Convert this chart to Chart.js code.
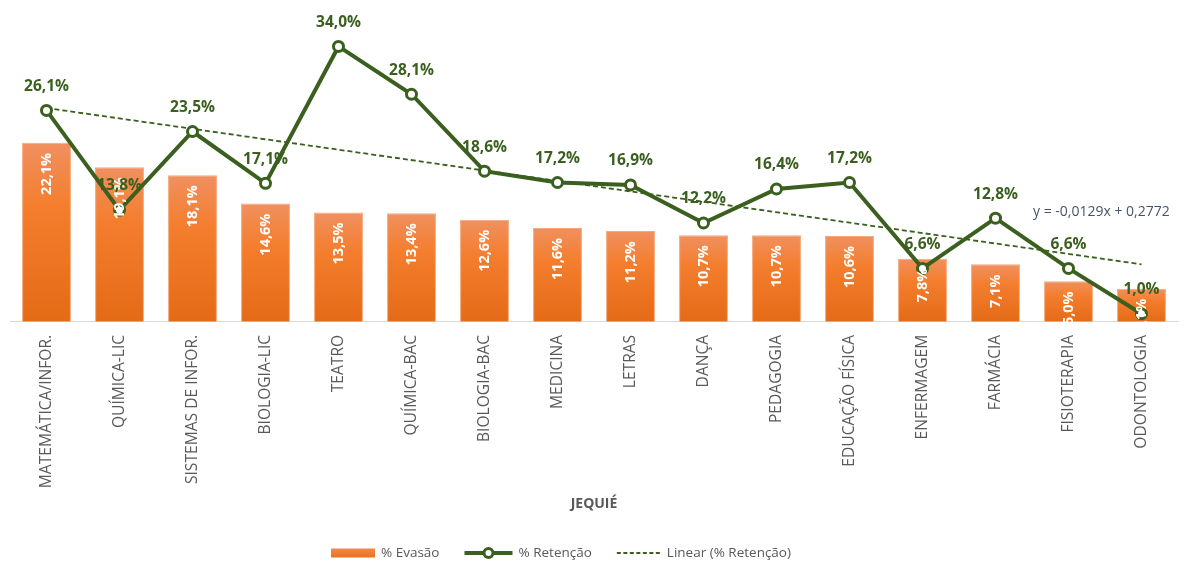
<!DOCTYPE html>
<html>
<head>
<meta charset="utf-8">
<script src="https://cdn.jsdelivr.net/npm/chart.js@4/dist/chart.umd.min.js"></script>
<style>
html,body{margin:0;padding:0;background:#fff;}
#wrap{width:1187px;height:563px;position:relative;}
</style>
</head>
<body>
<div id="wrap"><canvas id="c"></canvas></div>
<script>
const categories = ['MATEMÁTICA/INFOR.','QUÍMICA-LIC','SISTEMAS DE INFOR.','BIOLOGIA-LIC','TEATRO','QUÍMICA-BAC','BIOLOGIA-BAC','MEDICINA','LETRAS','DANÇA','PEDAGOGIA','EDUCAÇÃO FÍSICA','ENFERMAGEM','FARMÁCIA','FISIOTERAPIA','ODONTOLOGIA'];
const evasao = [22.1,19.1,18.1,14.6,13.5,13.4,12.6,11.6,11.2,10.7,10.7,10.6,7.8,7.1,5.0,4.1];
const retencao = [26.1,13.8,23.5,17.1,34.0,28.1,18.6,17.2,16.9,12.2,16.4,17.2,6.6,12.8,6.6,1.0];
// trendline endpoints (y = -0,0129x + 0,2772)
const trendline = [26.4,null,null,null,null,null,null,null,null,null,null,null,null,null,null,7.1];
const equationText = 'y = -0,0129x + 0,2772';
const legendNames = ['% Evasão','% Retenção','Linear (% Retenção)'];
const axisTitle = 'JEQUIÉ';

const GREEN = '#3A5F1E';
const FONT = "'Open Sans', 'DejaVu Sans', sans-serif";
const fmt = v => v.toFixed(1).replace('.', ',') + '%';

function barFill(ctx){
  const chart = ctx.chart;
  const area = chart.chartArea;
  if (!area || ctx.type !== 'data') return '#F07B2A';
  const y = chart.scales.y;
  const top = y.getPixelForValue(ctx.raw);
  const bottom = y.getPixelForValue(0);
  if (!isFinite(top) || bottom - top < 1) return '#F07B2A';
  const g = chart.ctx.createLinearGradient(0, top, 0, bottom);
  g.addColorStop(0, '#F09060');
  g.addColorStop(0.35, '#F47E2E');
  g.addColorStop(1, '#E46A16');
  return g;
}

const labelPlugin = {
  id: 'labels',
  afterDatasetsDraw(chart){
    const ctx = chart.ctx;
    ctx.save();
    const bars = chart.getDatasetMeta(0).data;
    ctx.fillStyle = '#FFFFFF';
    ctx.font = 'bold 14.5px ' + FONT;
    ctx.textAlign = 'right';
    ctx.textBaseline = 'middle';
    bars.forEach((b, i) => {
      ctx.save();
      ctx.translate(b.x, b.y + 10);
      ctx.rotate(-Math.PI / 2);
      ctx.fillText(fmt(evasao[i]), 0, 0);
      ctx.restore();
    });
    const pts = chart.getDatasetMeta(1).data;
    ctx.fillStyle = GREEN;
    ctx.font = 'bold 15.5px ' + FONT;
    ctx.textAlign = 'center';
    pts.forEach((p, i) => {
      ctx.fillText(fmt(retencao[i]), p.x, p.y - 24);
    });
    const xs = chart.scales.x, ys = chart.scales.y;
    ctx.fillStyle = '#44546A';
    ctx.font = '14px ' + FONT;
    ctx.fillText(equationText, xs.getPixelForValue(14.45), ys.getPixelForValue(13.5));
    ctx.restore();
  },
  afterDraw(chart){
    const ctx = chart.ctx;
    ctx.save();
    ctx.font = '13.5px ' + FONT;
    ctx.textBaseline = 'middle';
    ctx.textAlign = 'left';
    const glyphW = [44, 48, 44];
    const gapText = 6, gapItem = 25;
    const widths = legendNames.map(n => ctx.measureText(n).width);
    let total = 0;
    legendNames.forEach((n, i) => { total += glyphW[i] + gapText + widths[i] + (i < 2 ? gapItem : 0); });
    let x = 561 - total / 2;
    const y = 553;
    legendNames.forEach((n, i) => {
      const w = glyphW[i];
      if (i === 0) {
        const g = ctx.createLinearGradient(0, y - 4.5, 0, y + 4.5);
        g.addColorStop(0, '#F28A4C'); g.addColorStop(1, '#E8711E');
        ctx.fillStyle = g;
        ctx.fillRect(x, y - 4.5, w, 9);
      } else if (i === 1) {
        ctx.strokeStyle = GREEN; ctx.lineWidth = 4;
        ctx.beginPath(); ctx.moveTo(x, y); ctx.lineTo(x + w, y); ctx.stroke();
        ctx.beginPath(); ctx.arc(x + w / 2, y, 4.5, 0, Math.PI * 2);
        ctx.fillStyle = '#FFFFFF'; ctx.fill(); ctx.lineWidth = 3; ctx.stroke();
      } else {
        ctx.strokeStyle = GREEN; ctx.lineWidth = 1.8; ctx.setLineDash([4, 2.5]);
        ctx.beginPath(); ctx.moveTo(x, y); ctx.lineTo(x + w, y); ctx.stroke();
        ctx.setLineDash([]);
      }
      x += w + gapText;
      ctx.fillStyle = '#595959';
      ctx.fillText(n, x, y + 0.5);
      x += widths[i] + gapItem;
    });
    ctx.restore();
  }
};

new Chart(document.getElementById('c'), {
  type: 'bar',
  data: {
    labels: categories,
    datasets: [
      {
        type: 'bar', label: legendNames[0], data: evasao, order: 3,
        backgroundColor: barFill, borderColor: '#F6A878', borderWidth: 1,
        barPercentage: 0.67, categoryPercentage: 1.0
      },
      {
        type: 'line', label: legendNames[1], data: retencao, order: 1,
        borderColor: GREEN, borderWidth: 4, tension: 0,
        pointRadius: 5, pointBorderWidth: 3, pointBackgroundColor: '#FFFFFF', pointBorderColor: GREEN
      },
      {
        type: 'line', label: legendNames[2], data: trendline, order: 2, spanGaps: true,
        borderColor: GREEN, borderWidth: 1.8, borderDash: [5, 3], pointRadius: 0, fill: false
      }
    ]
  },
  options: {
    responsive: true,
    maintainAspectRatio: false,
    animation: false,
    layout: { padding: { top: 10, left: 10, right: 9, bottom: 22 } },
    scales: {
      x: {
        offset: true,
        grid: { display: false },
        border: { display: true, color: '#D9D9D9', width: 1 },
        ticks: { color: '#595959', font: { family: FONT, size: 15.6 }, minRotation: 90, maxRotation: 90, padding: 5, autoSkip: false },
        title: { display: true, text: axisTitle, color: '#595959', font: { family: FONT, size: 14, weight: 'bold' }, padding: { top: 2, bottom: 29 } }
      },
      y: { display: false, min: 0, max: 38.5 }
    },
    plugins: {
      tooltip: { enabled: false },
      legend: { display: false }
    }
  },
  plugins: [labelPlugin]
});
</script>
</body>
</html>
